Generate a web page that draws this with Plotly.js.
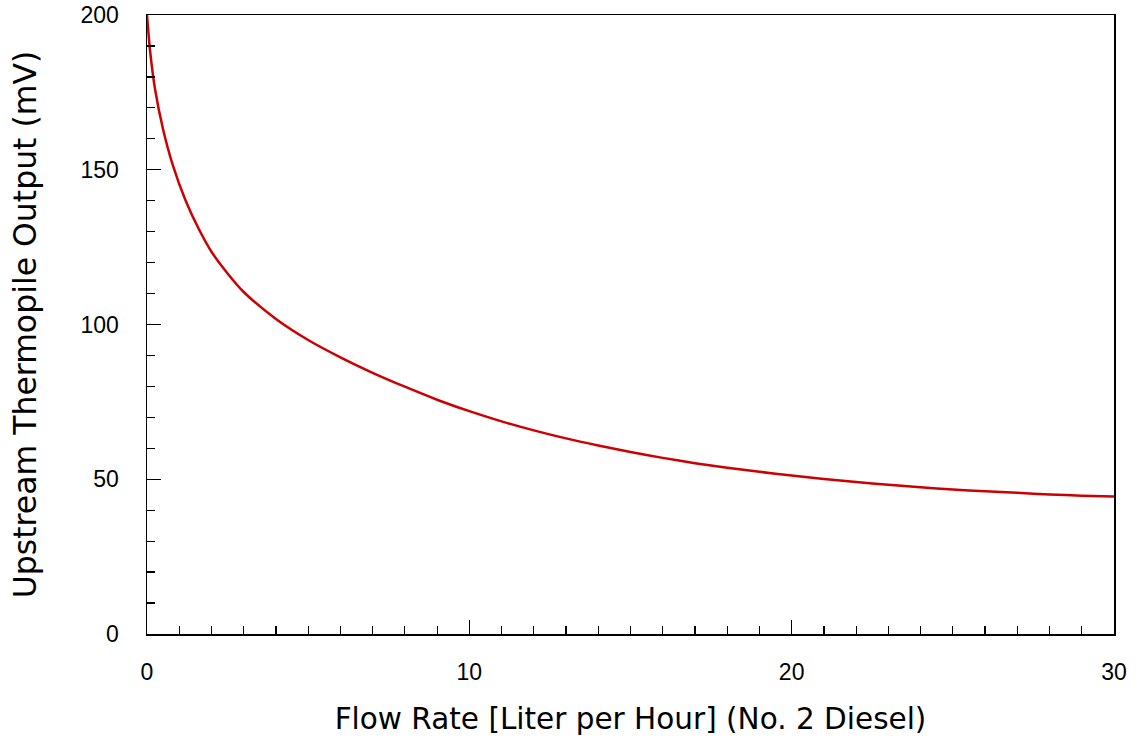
<!DOCTYPE html>
<html>
<head>
<meta charset="utf-8">
<script src="https://cdn.plot.ly/plotly-3.0.1.min.js"></script>
<style>html,body{margin:0;padding:0;background:#fff;}#chart{width:1143px;height:740px;}</style>
</head>
<body>
<div id="chart"></div>
<script>
const flowRate = [0, 0.1, 0.25, 0.5, 0.8, 1.2, 1.6, 2, 2.5, 3, 4, 5, 6, 7, 8, 9, 10, 11, 12, 13, 14, 15, 16, 17, 18, 19, 20, 21, 22, 23, 24, 25, 26, 27, 28, 29, 30];
const thermopileMv = [200, 188, 176, 163, 151.5, 140, 131, 123.5, 116.5, 110.5, 101.8, 95, 89.4, 84.4, 79.9, 75.7, 72, 68.7, 65.8, 63.2, 60.9, 58.8, 56.9, 55.2, 53.7, 52.4, 51.2, 50.1, 49.1, 48.2, 47.4, 46.7, 46.1, 45.6, 45.1, 44.7, 44.4];
const xTitle = 'Flow Rate [Liter per Hour] (No. 2 Diesel)';
const yTitle = 'Upstream Thermopile Output (mV)';

const trace = {
  x: flowRate, y: thermopileMv, type: 'scatter', mode: 'lines',
  line: {color: '#cc0000', width: 2.5, shape: 'spline', smoothing: 0.8},
  hoverinfo: 'x+y', showlegend: false
};

const tickFont = {family: '"Liberation Sans", Arial, sans-serif', size: 23, color: '#000'};
const xTitleFont = {family: '"DejaVu Sans", sans-serif', size: 29.5, color: '#000'};
const yTitleFont = {family: '"DejaVu Sans", sans-serif', size: 31.5, color: '#000'};

const layout = {
  width: 1143, height: 740,
  margin: {l: 147, r: 29, t: 15, b: 106},
  paper_bgcolor: '#fff', plot_bgcolor: '#fff',
  font: tickFont,
  xaxis: {
    range: [0, 30], tickvals: [0, 10, 20, 30], ticks: 'inside', ticklen: 14, tickwidth: 1.2, tickcolor: '#000',
    minor: {ticks: 'inside', ticklen: 8, dtick: 1, tick0: 0, tickcolor: '#000', tickwidth: 1.2, showgrid: false},
    showline: true, linecolor: '#000', linewidth: 1.5, mirror: true, showgrid: false, zeroline: false,
    tickfont: tickFont, ticklabelstandoff: 17,
    title: {text: xTitle, font: xTitleFont, standoff: 24}
  },
  yaxis: {
    range: [0, 200], tickvals: [0, 50, 100, 150, 200], ticks: 'inside', ticklen: 14, tickwidth: 1.2, tickcolor: '#000',
    minor: {ticks: 'inside', ticklen: 8, dtick: 10, tick0: 0, tickcolor: '#000', tickwidth: 1.2, showgrid: false},
    showline: true, linecolor: '#000', linewidth: 1.5, mirror: true, showgrid: false, zeroline: false,
    tickfont: tickFont, ticklabelstandoff: 22,
    title: {text: yTitle, font: yTitleFont, standoff: 34}
  }
};

Plotly.newPlot('chart', [trace], layout, {displayModeBar: false, staticPlot: true});
</script>
</body>
</html>
